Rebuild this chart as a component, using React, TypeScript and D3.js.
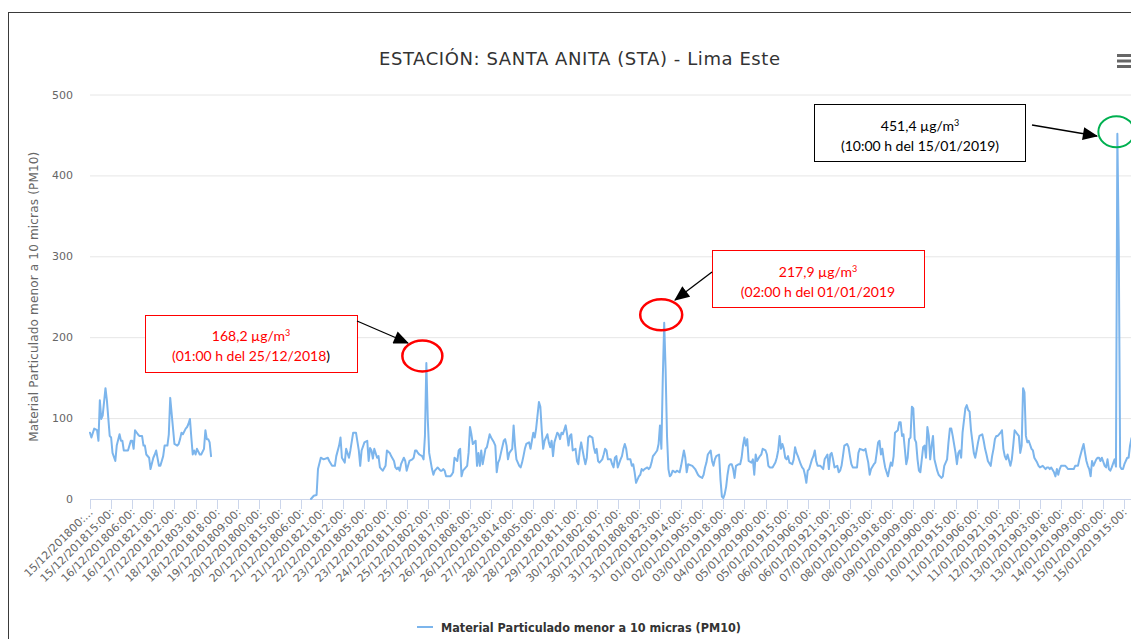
import React from "react";
import * as d3 from "d3";

const W = 1131;
const H = 639;

// Hourly category index (0 = 15/12/2018 00:00) and PM10 value (µg/m³)
const hourIndex: number[] = [
  0, 1, 3, 5, 6, 7, 8, 9, 11, 12, 14, 15, 16, 18, 19, 21, 22, 23, 24, 27, 29, 30, 31, 32, 34, 35, 37, 38, 39, 40,
  42, 43, 45, 46, 47, 49, 50, 51, 52, 53, 55, 56, 57, 59, 60, 62, 63, 64, 65, 66, 68, 69, 70, 71, 72, 73, 74, 75, 76, 78,
  79, 81, 82, 83, 84, 85, 86, 87,
  157, 159, 161, 162, 164, 166, 169, 170, 172, 174, 175, 177, 178, 179, 181, 182, 184, 185, 187, 189, 191,
  192, 193, 195, 197, 198, 199, 200, 201, 202, 204, 205, 206, 207, 208, 210, 211, 213, 214, 216, 217, 218, 219, 220, 221,
  223, 224, 225, 226, 227, 229, 230, 231, 232, 233, 234, 236, 237, 238, 239, 240, 241, 243, 244, 245, 246, 247, 249, 250,
  251, 252, 253, 255, 256, 257, 258, 259, 261, 262, 263, 264, 265, 266, 268, 269, 270, 271, 272, 274, 275, 276, 277, 278,
  279, 281, 282, 283, 284, 285, 287, 288, 289, 290, 291, 292, 294, 295, 296, 297, 298, 300, 301, 302, 303, 305, 306, 307,
  308, 309, 310, 312, 313, 314, 315, 316, 317, 319, 320, 321, 322, 323, 325, 326, 327, 328, 329, 330, 332, 333, 334, 335,
  336, 338, 339, 340, 341, 342, 343, 345, 346, 347, 348, 349, 351, 352, 353, 354, 355, 357, 358, 359, 360, 361, 362, 364,
  365, 366, 367, 368, 370, 371, 372, 373, 374, 375, 377, 378, 379, 380, 381, 382, 384, 385, 386, 387, 388, 390, 391, 392,
  393, 394, 396, 397, 398, 399, 400, 401, 403, 404, 405, 406, 407, 408, 409, 410, 411, 412, 413, 414, 416, 417, 419, 420,
  422, 423, 424, 425, 428, 430, 432, 433, 435, 436, 437, 438, 439, 441, 442, 443, 444, 445, 447, 448, 449, 450, 451, 452,
  453, 454, 455, 456, 457, 458, 459, 461, 462, 463, 464, 465, 466, 467, 468, 470, 471, 472, 473, 474, 476, 477, 478, 480,
  481, 482, 483, 485, 487, 488, 489, 490, 491, 492, 493, 494, 495, 496, 497, 499, 500, 501, 502, 503, 505, 506, 507, 508,
  509, 510, 511, 512, 513, 514, 515, 516, 517, 519, 520, 521, 522, 524, 525, 526, 527, 528, 529, 531, 532, 533, 534, 535,
  536, 538, 539, 540, 541, 542, 545, 546, 547, 550, 551, 552, 553, 554, 555, 557, 558, 559, 560, 561, 562, 563, 564, 565,
  567, 568, 569, 570, 571, 572, 574, 575, 576, 577, 578, 580, 581, 582, 583, 584, 585, 586, 587, 588, 589, 590, 592, 593,
  594, 595, 596, 597, 598, 599, 600, 602, 603, 604, 605, 606, 607, 609, 610, 611, 612, 613, 615, 616, 617, 618, 619, 620,
  622, 623, 624, 625, 626, 628, 629, 630, 631, 632, 634, 635, 636, 637, 638, 640, 641, 642, 643, 644, 645, 647, 648, 649,
  650, 651, 652, 654, 655, 656, 657, 659, 660, 661, 662, 663, 664, 665, 666, 667, 669, 670, 671, 673, 674, 675, 677, 679,
  680, 681, 682, 683, 685, 686, 687, 688, 689, 690, 693, 694, 695, 699, 700, 702, 703, 705, 706, 707, 708, 709, 710, 711,
  712, 713, 715, 716, 717, 718, 719, 721, 722, 723, 724, 725, 726, 728, 729, 730, 731, 732, 733, 734, 735, 737, 738, 739,
  740,
];

const pm10: (number | null)[] = [
  82, 76, 87, 85, 72, 122, 99, 103, 137, 122, 78, 76, 57, 47, 66, 80, 72, 72, 60, 60, 72, 72, 62, 85, 80, 78, 78, 66, 66, 55,
  51, 37, 51, 55, 60, 41, 41, 47, 53, 66, 66, 80, 125, 87, 68, 66, 68, 74, 82, 80, 87, 89, 93, 99, 76, 55, 60, 55, 62, 55,
  55, 62, 85, 74, 74, 70, 53, null,
  0, 4, 5, 37, 51, 49, 51, 47, 41, 41, 53, 66, 76, 51, 45, 62, 51, 60, 82, 82, 60,
  41, 60, 70, 72, 47, 63, 60, 50, 62, 51, 53, 39, 37, 35, 41, 60, 57, 53, 47, 39, 37, 39, 35, 43,
  51, 47, 35, 41, 47, 49, 51, 60, 60, 57, 55, 53, 49, 78, 168.2, 99, 57, 37, 30, 35, 37, 39, 35, 35,
  37, 35, 28, 28, 28, 30, 33, 51, 47, 60, 62, 28, 35, 37, 41, 57, 89, 80, 68, 72, 41, 57, 41, 60,
  43, 62, 64, 72, 80, 76, 70, 66, 33, 45, 49, 57, 72, 74, 66, 49, 57, 62, 91, 66, 49, 41, 39, 45,
  53, 62, 68, 70, 62, 72, 82, 76, 87, 120, 114, 85, 62, 72, 80, 70, 64, 72, 53, 70, 82, 80, 74, 82,
  80, 91, 80, 66, 78, 80, 60, 62, 47, 43, 60, 70, 51, 43, 51, 76, 78, 76, 64, 57, 62, 47, 45, 49,
  55, 62, 60, 49, 49, 43, 39, 51, 53, 39, 49, 53, 62, 68, 62, 49, 49, 41, 43, 33, 20, 28, 30, 37,
  35, 37, 39, 37, 39, 45, 53, 55, 60, 68, 91, 62, 150, 217.9, 160, 78, 37, 28, 30, 35, 33, 35, 33, 41,
  60, 51, 33, 43, 41, 37, 30, 28, 26, 30, 39, 45, 55, 60, 47, 41, 49, 53, 55, 24, 3, 1, 6, 15,
  30, 41, 43, 43, 37, 26, 41, 43, 43, 51, 66, 76, 66, 74, 47, 45, 49, 30, 55, 47, 53, 55, 62, 60,
  55, 41, 39, 39, 45, 51, 60, 78, 62, 68, 62, 51, 49, 53, 45, 43, 49, 64, 57, 53, 43, 39, 37, 30,
  20, 35, 37, 43, 49, 53, 60, 47, 41, 41, 39, 37, 49, 55, 37, 55, 57, 49, 39, 41, 33, 35, 41, 53,
  66, 68, 64, 53, 43, 39, 39, 57, 62, 60, 62, 53, 45, 30, 37, 43, 45, 57, 70, 72, 55, 62, 49, 39,
  28, 37, 45, 41, 53, 82, 85, 95, 95, 78, 80, 43, 51, 74, 76, 114, 112, 74, 70, 49, 35, 33, 64, 66,
  51, 89, 78, 49, 66, 78, 49, 35, 30, 28, 26, 28, 41, 49, 70, 87, 87, 78, 57, 43, 57, 60, 51, 82,
  112, 116, 110, 108, 85, 57, 51, 60, 70, 78, 80, 72, 62, 55, 47, 41, 53, 62, 74, 78, 78, 82, 85, 62,
  53, 49, 55, 41, 49, 66, 85, 80, 78, 57, 66, 137, 132, 78, 70, 72, 62, 60, 51, 45, 41, 39, 41, 37,
  39, 39, 37, 39, 33, 28, 37, 30, 37, 41, 41, 39, 37, 37, 41, 41, 49, 62, 68, 57, 47, 41, 37, 28,
  47, 41, 49, 51, 51, 47, 51, 41, 39, 49, 37, 35, 39, 49, 40, 451.4, 310, 40, 37, 37, 43, 51, 51, 66,
  75,
];

const yTicks: number[] = [0, 100, 200, 300, 400, 500];

// Category labels shown every 15 hourly categories
const tickLabels: string[] = [
  "15/12/2018 00:00", "15/12/2018 15:00", "16/12/2018 06:00", "16/12/2018 21:00", "17/12/2018 12:00",
  "18/12/2018 03:00", "18/12/2018 18:00", "19/12/2018 09:00", "20/12/2018 00:00", "20/12/2018 15:00",
  "21/12/2018 06:00", "21/12/2018 21:00", "22/12/2018 12:00", "23/12/2018 05:00", "23/12/2018 20:00",
  "24/12/2018 11:00", "25/12/2018 02:00", "25/12/2018 17:00", "26/12/2018 08:00", "26/12/2018 23:00",
  "27/12/2018 14:00", "28/12/2018 05:00", "28/12/2018 20:00", "29/12/2018 11:00", "30/12/2018 02:00",
  "30/12/2018 17:00", "31/12/2018 08:00", "31/12/2018 23:00", "01/01/2019 14:00", "02/01/2019 05:00",
  "03/01/2019 18:00", "04/01/2019 09:00", "05/01/2019 00:00", "05/01/2019 15:00", "06/01/2019 06:00",
  "06/01/2019 21:00", "07/01/2019 12:00", "08/01/2019 03:00", "08/01/2019 18:00", "09/01/2019 09:00",
  "10/01/2019 00:00", "10/01/2019 15:00", "11/01/2019 06:00", "11/01/2019 21:00", "12/01/2019 12:00",
  "13/01/2019 03:00", "13/01/2019 18:00", "14/01/2019 09:00", "15/01/2019 00:00", "15/01/2019 15:00",
];
const TICK_EVERY = 15;

const FONT = "'DejaVu Sans', Verdana, sans-serif";
const NOTE_FONT = "Lato, 'Open Sans', sans-serif";
const LINE_COLOR = "#7cb5ec";

export default function App() {
  const plotLeft = 90;
  const lastTick = (tickLabels.length - 1) * TICK_EVERY;
  const x = d3.scaleLinear().domain([0, lastTick]).range([plotLeft, 1124.4]);
  const y = d3.scaleLinear().domain([0, 500]).range([499, 94.5]);

  const pts = hourIndex.map((h, i) => ({ h, v: pm10[i] }));
  const line = d3
    .line<{ h: number; v: number | null }>()
    .defined((d) => d.v != null)
    .x((d) => x(d.h))
    .y((d) => y(d.v as number));

  const labelText = (s: string, i: number) => {
    const compact = s.replace(" ", "");
    return i === 0 ? compact.slice(0, 12) + ":..." : compact + ":";
  };

  const peak1 = { x: x(239), y: y(168.2) };
  const peak2 = { x: x(408), y: y(217.9) };
  const peak3 = { x: x(730), y: y(451.4) };

  const sup = (t: string) => (
    <tspan baselineShift="super" fontSize="9">{t}</tspan>
  );

  return (
    <svg
      width={W}
      height={H}
      viewBox={`0 0 ${W} ${H}`}
      style={{ position: "absolute", left: 0, top: 0, background: "#fff" }}
    >
      <defs>
        <marker id="ah" viewBox="0 0 14 12" refX="13" refY="6" markerWidth="16" markerHeight="13" orient="auto" markerUnits="userSpaceOnUse">
          <path d="M0,0 L14,6 L0,12 z" fill="#000" />
        </marker>
      </defs>
      <rect x={0} y={0} width={W} height={H} fill="#fff" />
      {/* outer frame */}
      <rect x={8.5} y={12.5} width={1200} height={700} fill="none" stroke="#3a3a3a" strokeWidth={1} />

      {/* title */}
      <text x={579.5} y={65} textAnchor="middle" fontFamily={FONT} fontSize={18} textLength={401} lengthAdjust="spacing" fill="#333333">
        ESTACIÓN: SANTA ANITA (STA) - Lima Este
      </text>

      {/* context menu icon */}
      {[55.5, 61, 66.5].map((yy) => (
        <line key={yy} x1={1117} x2={1135} y1={yy} y2={yy} stroke="#666" strokeWidth={3} />
      ))}

      {/* grid */}
      {yTicks.map((t) =>
        t === 0 ? null : (
          <line key={t} x1={plotLeft} x2={W + 20} y1={y(t) + 0.5} y2={y(t) + 0.5} stroke="#e6e6e6" strokeWidth={1} />
        )
      )}
      {/* y labels */}
      {yTicks.map((t) => (
        <text key={"yl" + t} x={73} y={y(t) + 4} textAnchor="end" fontFamily={FONT} fontSize={11} fill="#666666">
          {t}
        </text>
      ))}
      {/* y title */}
      <text
        transform={`translate(38,${(y(0) + y(500)) / 2}) rotate(-90)`}
        textAnchor="middle"
        fontFamily={FONT}
        fontSize={12}
        textLength={290}
        lengthAdjust="spacing"
        fill="#666666"
      >
        Material Particulado menor a 10 micras (PM10)
      </text>

      {/* x axis */}
      <line x1={plotLeft} x2={W + 20} y1={y(0) + 0.5} y2={y(0) + 0.5} stroke="#ccd6eb" strokeWidth={1} />
      {tickLabels.map((lab, i) => {
        const tx = Math.round(x(i * TICK_EVERY)) + 0.5;
        return (
          <g key={"xt" + i}>
            <line x1={tx} x2={tx} y1={y(0)} y2={y(0) + 10} stroke="#ccd6eb" strokeWidth={1} />
            <text
              transform={`translate(${tx + 3},${y(0) + 14}) rotate(-45)`}
              textAnchor="end"
              fontFamily={FONT}
              fontSize={11}
              fill="#666666"
            >
              {labelText(lab, i)}
            </text>
          </g>
        );
      })}

      {/* series */}
      <path d={line(pts) || ""} fill="none" stroke={LINE_COLOR} strokeWidth={2} strokeLinejoin="round" strokeLinecap="round" />

      {/* legend */}
      <line x1={417} x2={433} y1={627} y2={627} stroke={LINE_COLOR} strokeWidth={2} />
      <text x={441} y={631.5} fontFamily={FONT} fontSize={12} fontWeight="bold" textLength={300} lengthAdjust="spacingAndGlyphs" fill="#333333">
        Material Particulado menor a 10 micras (PM10)
      </text>

      {/* annotation 1 */}
      <rect x={145.5} y={315.5} width={212} height={57} fill="#fff" stroke="#ff0000" strokeWidth={1} />
      <text x={251} y={341} textAnchor="middle" fontFamily={NOTE_FONT} fontSize={14} fill="#ff0000">
        168,2 µg/m{sup("3")}
      </text>
      <text x={251} y={361} textAnchor="middle" fontFamily={NOTE_FONT} fontSize={14} fill="#ff0000">
        (01:00 h del 25/12/2018<tspan fill="#000">)</tspan>
      </text>
      <line x1={357} y1={321} x2={408} y2={343} stroke="#000" strokeWidth={1.3} markerEnd="url(#ah)" />
      <ellipse cx={peak1.x - 4} cy={peak1.y - 7} rx={20} ry={15.5} fill="none" stroke="#ff0000" strokeWidth={2.5} />

      {/* annotation 2 */}
      <rect x={712.5} y={250.5} width={212} height={57} fill="#fff" stroke="#ff0000" strokeWidth={1} />
      <text x={818} y={277} textAnchor="middle" fontFamily={NOTE_FONT} fontSize={14} fill="#ff0000">
        217,9 µg/m{sup("3")}
      </text>
      <text x={818} y={297} textAnchor="middle" fontFamily={NOTE_FONT} fontSize={14} fill="#ff0000">
        (02:00 h del 01/01/2019
      </text>
      <line x1={712} y1={272} x2={675} y2={300} stroke="#000" strokeWidth={1.3} markerEnd="url(#ah)" />
      <ellipse cx={peak2.x - 3} cy={peak2.y - 8} rx={21} ry={15.5} fill="none" stroke="#ff0000" strokeWidth={2.5} />

      {/* annotation 3 */}
      <rect x={814.5} y={104.5} width={211} height={57} fill="#fff" stroke="#000" strokeWidth={1} />
      <text x={920} y={131} textAnchor="middle" fontFamily={NOTE_FONT} fontSize={14} fill="#000">
        451,4 µg/m{sup("3")}
      </text>
      <text x={920} y={151} textAnchor="middle" fontFamily={NOTE_FONT} fontSize={14} fill="#000">
        (10:00 h del 15/01/2019)
      </text>
      <line x1={1032} y1={125} x2={1097} y2={136} stroke="#000" strokeWidth={1.3} markerEnd="url(#ah)" />
      <ellipse cx={peak3.x - 1} cy={peak3.y - 2} rx={18} ry={15.5} fill="none" stroke="#00b050" strokeWidth={2} />
    </svg>
  );
}
